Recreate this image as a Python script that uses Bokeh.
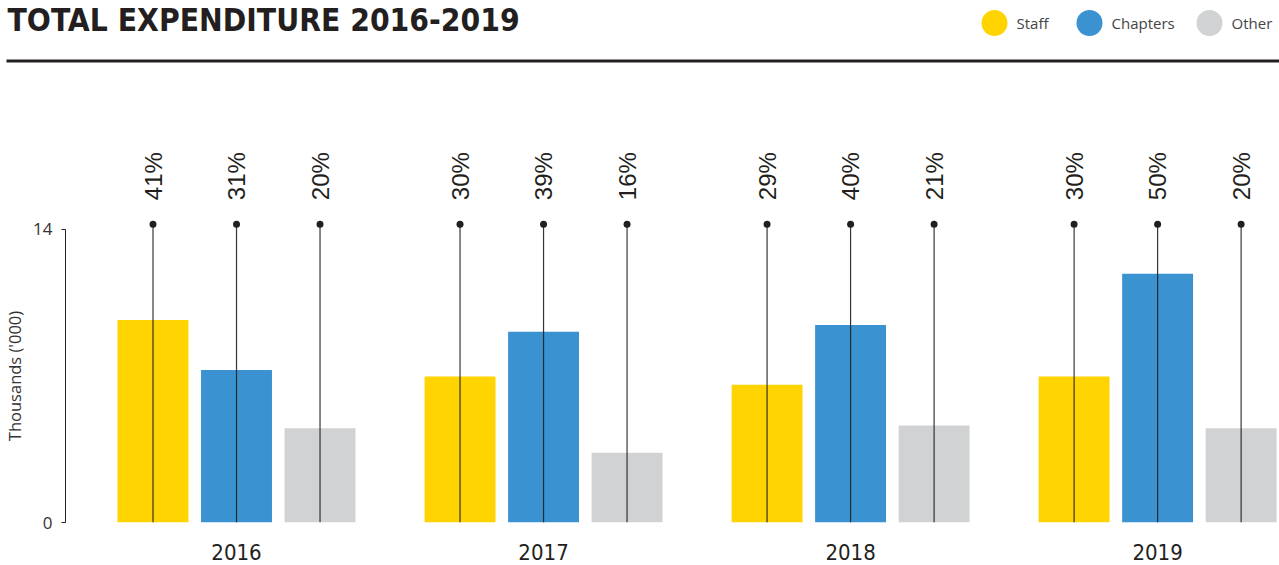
import math
from bokeh.plotting import figure
from bokeh.layouts import column, row
from bokeh.models import Range1d, FixedTicker, ColumnDataSource
from bokeh.core.properties import value
from bokeh.embed import file_html
from bokeh.resources import INLINE

# ---- data ----
title = "TOTAL EXPENDITURE 2016-2019"
years = ["2016", "2017", "2018", "2019"]
categories = ["Staff", "Chapters", "Other"]
staff = [9.68, 6.97, 6.58, 6.97]
chapters = [7.29, 9.11, 9.44, 11.88]
other = [4.50, 3.33, 4.64, 4.50]
staff_pct = ["41%", "30%", "29%", "30%"]
chapters_pct = ["31%", "39%", "40%", "50%"]
other_pct = ["20%", "16%", "21%", "20%"]
y_ticks = [0, 14]
y_label = "Thousands ('000)"

# ---- style ----
colors = ["#FFD400", "#3B92D1", "#D1D2D4"]
dark = "#231F20"
narrow = "DejaVu Sans Condensed"

# ---- header (title, legend, rule) ----
header = figure(width=1279, height=70, x_range=Range1d(0, 1279), y_range=Range1d(70, 0),
                x_axis_type=None, y_axis_type=None, min_border=0, outline_line_color=None,
                output_backend="svg", toolbar_location=None)
header.grid.visible = False
header.text(x=[7], y=[19], text=[title], text_font=value(narrow), text_font_style="bold",
            text_font_size="31.5px", text_color=dark, text_baseline="middle", text_align="left")
header.segment(x0=[6], y0=[60.5], x1=[1279], y1=[60.5], line_width=3, line_color=dark)
legend_x = [994, 1089, 1209]
header.scatter(x=legend_x, y=[22.5] * 3, size=26, fill_color=colors, line_color=None)
header.text(x=[lx + 22 for lx in legend_x], y=[22.5] * 3, text=categories,
            text_font=value("Open Sans"), text_font_size="15px", text_color="#444444",
            text_baseline="middle", text_align="left")

# ---- chart ----
px_per_unit = 20.93
frame_h = 452
yr = Range1d(0, frame_h / px_per_unit)

chart = figure(width=1250, height=495, x_range=Range1d(-0.557, 3.397), y_range=yr,
               min_border_left=36, min_border_right=0, min_border_top=0, min_border_bottom=43,
               outline_line_color=None, output_backend="svg", toolbar_location=None)
chart.grid.visible = False

offsets = [-0.272, 0.0, 0.272]
series = [staff, chapters, other]
pcts = [staff_pct, chapters_pct, other_pct]
stem_top = 14.25
label_y = 15.4
for off, vals, pct, col in zip(offsets, series, pcts, colors):
    xs = [i + off for i in range(len(years))]
    src = ColumnDataSource(dict(x=xs, top=vals, pct=pct, stem=[stem_top] * len(xs),
                                lab=[label_y] * len(xs), zero=[0] * len(xs)))
    chart.vbar(x="x", top="top", bottom=0, width=0.231, fill_color=col, line_color=None, source=src)
    chart.segment(x0="x", y0="zero", x1="x", y1="stem", line_color=dark, line_width=1.2,
                  line_alpha=0.9, source=src)
    chart.scatter(x="x", y="stem", size=7, fill_color=dark, line_color=None, source=src)
    chart.text(x="x", y="lab", text="pct", angle=math.pi / 2, text_align="left",
               text_baseline="middle", text_font=value("Liberation Sans"),
               text_font_size="24px", text_color=dark, source=src)

ya = chart.yaxis[0]
ya.ticker = FixedTicker(ticks=y_ticks)
ya.bounds = (0, 14)
ya.minor_tick_line_color = None
ya.major_tick_in = 0
ya.major_tick_out = 4
ya.axis_line_color = dark
ya.major_tick_line_color = dark
ya.major_label_text_font = "Open Sans"
ya.major_label_text_font_size = "17px"
ya.major_label_text_color = "#333333"
ya.major_label_standoff = 9

xa = chart.xaxis[0]
xa.ticker = FixedTicker(ticks=list(range(len(years))))
xa.major_label_overrides = {i: y for i, y in enumerate(years)}
xa.axis_line_color = None
xa.major_tick_line_color = None
xa.minor_tick_line_color = None
xa.major_label_text_font = narrow
xa.major_label_text_font_size = "22px"
xa.major_label_text_color = dark
xa.major_label_standoff = 15

# ---- y axis title strip ----
labfig = figure(width=29, height=495, x_range=Range1d(0, 29), y_range=yr,
                x_axis_type=None, y_axis_type=None, min_border=0, min_border_bottom=43,
                outline_line_color=None, output_backend="svg", toolbar_location=None)
labfig.grid.visible = False
labfig.text(x=[13.5], y=[7], text=[y_label], angle=math.pi / 2, text_align="center",
            text_baseline="middle", text_font=value("Open Sans"), text_font_size="16.5px",
            text_color="#333333")

layout = column(header, row(labfig, chart))
open("out.html", "w").write(file_html(layout, INLINE))
